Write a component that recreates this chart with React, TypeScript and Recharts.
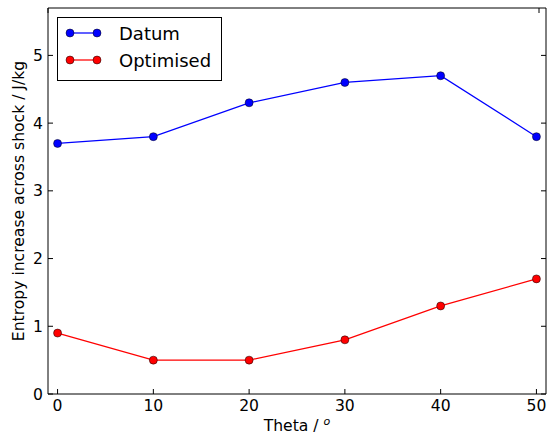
import { LineChart, Line, XAxis, YAxis, Legend } from "recharts";

const theta = [0, 10, 20, 30, 40, 50];
const datum = [3.7, 3.8, 4.3, 4.6, 4.7, 3.8];
const optimised = [0.9, 0.5, 0.5, 0.8, 1.3, 1.7];
const xTicks = [0, 10, 20, 30, 40, 50];
const yTicks = [0, 1, 2, 3, 4, 5];

const data = theta.map((t, i) => ({ theta: t, datum: datum[i], optimised: optimised[i] }));

const FONT = "DejaVu Sans, sans-serif";
const FS = 15.6;
const TICK_LEN = 5;

function BottomTick({ x, y, payload }: any) {
  return (
    <g>
      <line x1={x} x2={x} y1={y} y2={y - TICK_LEN} stroke="#000" />
      <text x={x} y={y + 17} textAnchor="middle" fontSize={FS} fontFamily={FONT} fill="#000">
        {payload.value}
      </text>
    </g>
  );
}

function TopTick({ x, y }: any) {
  return <line x1={x} x2={x} y1={y} y2={y + TICK_LEN} stroke="#000" />;
}

function LeftTick({ x, y, payload }: any) {
  return (
    <g>
      <line x1={x} x2={x + TICK_LEN} y1={y} y2={y} stroke="#000" />
      <text x={x - 5} y={y + 5.5} textAnchor="end" fontSize={FS} fontFamily={FONT} fill="#000">
        {payload.value}
      </text>
    </g>
  );
}

function RightTick({ x, y }: any) {
  return <line x1={x} x2={x - TICK_LEN} y1={y} y2={y} stroke="#000" />;
}

const legendItems = [
  { name: "Datum", color: "#0000ff" },
  { name: "Optimised", color: "#ff0000" },
];

function LegendBox() {
  return (
    <svg width={165} height={64} style={{ display: "block" }}>
      <rect x={0.5} y={0.5} width={164} height={63} fill="#fff" stroke="#000" />
      {legendItems.map((it, i) => {
        const cy = 16 + i * 27;
        return (
          <g key={it.name}>
            <line x1={13} x2={40} y1={cy} y2={cy} stroke={it.color} strokeWidth={1.25} />
            <circle cx={13} cy={cy} r={4} fill={it.color} stroke="#000" strokeWidth={0.5} />
            <circle cx={40} cy={cy} r={4} fill={it.color} stroke="#000" strokeWidth={0.5} />
            <text x={62} y={cy + 7} fontSize={18} fontFamily={FONT} fill="#000">
              {it.name}
            </text>
          </g>
        );
      })}
    </svg>
  );
}

export default function App() {
  return (
    <div style={{ position: "absolute", left: 0, top: 0, background: "#fff" }}>
      <LineChart width={547} height={439} data={data} margin={{ top: 7, right: 0, bottom: 44, left: 47 }}>
        <XAxis
          dataKey="theta"
          type="number"
          domain={[-1, 51]}
          ticks={xTicks}
          height={1}
          tickSize={0}
          tickMargin={0}
          tickLine={false}
          tick={<BottomTick />}
          axisLine={{ stroke: "#000" }}
          allowDataOverflow
          label={{
            content: ({ viewBox }: any) => (
              <text
                x={viewBox.x + viewBox.width / 2}
                y={viewBox.y + 37}
                textAnchor="middle"
                fontSize={FS}
                fontFamily={FONT}
                fill="#000"
              >
                Theta /{" "}
                <tspan fontStyle="italic" fontSize={11} dy={-6}>
                  o
                </tspan>
              </text>
            ),
          }}
        />
        <XAxis
          xAxisId="top"
          orientation="top"
          type="number"
          domain={[-1, 51]}
          ticks={xTicks}
          height={1}
          tickSize={0}
          tickMargin={0}
          tickLine={false}
          tick={<TopTick />}
          axisLine={{ stroke: "#000" }}
          allowDataOverflow
        />
        <YAxis
          type="number"
          domain={[0, 5.7]}
          ticks={yTicks}
          width={1}
          tickSize={0}
          tickMargin={0}
          tickLine={false}
          tick={<LeftTick />}
          axisLine={{ stroke: "#000" }}
          allowDataOverflow
          label={{
            content: ({ viewBox }: any) => {
              const cx = viewBox.x - 28;
              const cy = viewBox.y + viewBox.height / 2;
              return (
                <text
                  x={cx}
                  y={cy}
                  transform={`rotate(-90 ${cx} ${cy})`}
                  textAnchor="middle"
                  dominantBaseline="central"
                  fontSize={FS}
                  fontFamily={FONT}
                  fill="#000"
                >
                  Entropy increase across shock / J/kg
                </text>
              );
            },
          }}
        />
        <YAxis
          yAxisId="right"
          orientation="right"
          type="number"
          domain={[0, 5.7]}
          ticks={yTicks}
          width={1}
          tickSize={0}
          tickMargin={0}
          tickLine={false}
          tick={<RightTick />}
          axisLine={{ stroke: "#000" }}
          allowDataOverflow
        />
        <Legend
          layout="vertical"
          align="center"
          verticalAlign="middle"
          content={() => <LegendBox />}
          wrapperStyle={{ left: 57, top: 17, width: 165, height: 64 }}
        />
        <Line
          dataKey="datum"
          name="Datum"
          type="linear"
          stroke="#0000ff"
          strokeWidth={1.25}
          dot={{ r: 4, fill: "#0000ff", stroke: "#000", strokeWidth: 0.5 }}
          activeDot={false}
          isAnimationActive={false}
        />
        <Line
          dataKey="optimised"
          name="Optimised"
          type="linear"
          stroke="#ff0000"
          strokeWidth={1.25}
          dot={{ r: 4, fill: "#ff0000", stroke: "#000", strokeWidth: 0.5 }}
          activeDot={false}
          isAnimationActive={false}
        />
      </LineChart>
    </div>
  );
}
